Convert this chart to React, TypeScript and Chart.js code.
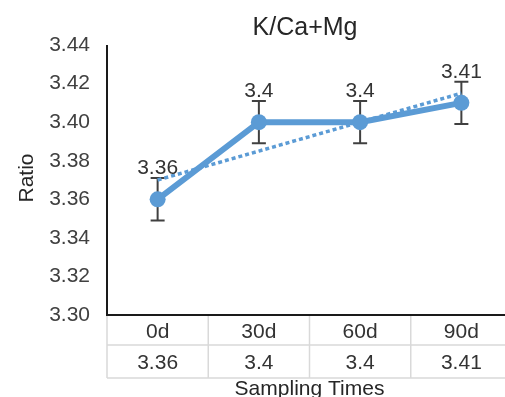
import React, { useEffect, useRef } from "react";
import { Chart, registerables } from "chart.js";

Chart.register(...registerables);

const categories = ["0d", "30d", "60d", "90d"];
const ratioValues = [3.36, 3.4, 3.4, 3.41];
const errorValues = [0.011, 0.011, 0.011, 0.011];
const tableValues = ["3.36", "3.4", "3.4", "3.41"];
const yMin = 3.3;
const yMax = 3.44;
const yStep = 0.02;
const chartTitle = "K/Ca+Mg";
const yTitle = "Ratio";
const xTitle = "Sampling Times";

const FONT = "'Liberation Sans', Arial, sans-serif";
const BLUE = "#5B9BD5";

function linearTrend(values: number[]): number[] {
  const n = values.length;
  const xs = values.map((_, i) => i + 1);
  const mx = xs.reduce((a, b) => a + b, 0) / n;
  const my = values.reduce((a, b) => a + b, 0) / n;
  let num = 0;
  let den = 0;
  for (let i = 0; i < n; i++) {
    num += (xs[i] - mx) * (values[i] - my);
    den += (xs[i] - mx) * (xs[i] - mx);
  }
  const slope = num / den;
  return xs.map((x) => my + slope * (x - mx));
}

const decorPlugin = {
  id: "decor",
  beforeDatasetsDraw(chart: any) {
    const ctx = chart.ctx;
    const xs = chart.scales.x;
    const ys = chart.scales.y;
    ctx.save();
    ctx.strokeStyle = "#404040";
    ctx.lineWidth = 2;
    ratioValues.forEach((v, i) => {
      const x = xs.getPixelForValue(i);
      const yTop = ys.getPixelForValue(v + errorValues[i]);
      const yBot = ys.getPixelForValue(v - errorValues[i]);
      ctx.beginPath();
      ctx.moveTo(x, yTop);
      ctx.lineTo(x, yBot);
      ctx.moveTo(x - 7, yTop);
      ctx.lineTo(x + 7, yTop);
      ctx.moveTo(x - 7, yBot);
      ctx.lineTo(x + 7, yBot);
      ctx.stroke();
    });
    ctx.restore();
  },
  afterDatasetsDraw(chart: any) {
    const ctx = chart.ctx;
    const xs = chart.scales.x;
    const ys = chart.scales.y;
    ctx.save();
    ctx.font = `21px ${FONT}`;
    ctx.fillStyle = "#333333";
    ctx.textAlign = "center";
    ctx.textBaseline = "alphabetic";
    ratioValues.forEach((v, i) => {
      const x = xs.getPixelForValue(i);
      const y = ys.getPixelForValue(v);
      ctx.fillText(tableValues[i], x, y - 25);
    });
    ctx.restore();
  },
  afterDraw(chart: any) {
    const ctx = chart.ctx;
    const area = chart.chartArea;
    const xs = chart.scales.x;
    const n = categories.length;
    const colW = (area.right - area.left) / n;
    const row1 = area.bottom + 30;
    const row2 = area.bottom + 63;
    ctx.save();
    // table grid
    ctx.strokeStyle = "#d9d9d9";
    ctx.lineWidth = 1.5;
    ctx.beginPath();
    ctx.moveTo(area.left, row1);
    ctx.lineTo(area.right, row1);
    ctx.moveTo(area.left, row2);
    ctx.lineTo(area.right, row2);
    for (let i = 0; i <= n; i++) {
      const x = area.left + i * colW;
      ctx.moveTo(x, area.bottom);
      ctx.lineTo(x, row2);
    }
    ctx.stroke();
    // axis lines
    ctx.strokeStyle = "#1a1a1a";
    ctx.lineWidth = 2;
    ctx.beginPath();
    ctx.moveTo(area.left, area.top);
    ctx.lineTo(area.left, area.bottom);
    ctx.lineTo(area.right, area.bottom);
    ctx.stroke();
    // table text
    ctx.font = `21px ${FONT}`;
    ctx.fillStyle = "#333333";
    ctx.textAlign = "center";
    ctx.textBaseline = "alphabetic";
    categories.forEach((c, i) => {
      const x = xs.getPixelForValue(i);
      ctx.fillText(c, x, area.bottom + 23);
      ctx.fillText(tableValues[i], x, area.bottom + 54);
    });
    // axis titles
    ctx.fillStyle = "#262626";
    ctx.font = `21px ${FONT}`;
    ctx.fillText(xTitle, (area.left + area.right) / 2, 395);
    ctx.save();
    ctx.translate(33, 178);
    ctx.rotate(-Math.PI / 2);
    ctx.fillText(yTitle, 0, 0);
    ctx.restore();
    // chart title
    ctx.font = `25px ${FONT}`;
    ctx.fillStyle = "#262626";
    ctx.fillText(chartTitle, 305, 35);
    ctx.restore();
  },
};

export default function App() {
  const canvasRef = useRef<HTMLCanvasElement | null>(null);

  useEffect(() => {
    const canvas = canvasRef.current;
    if (!canvas) return;
    const trend = linearTrend(ratioValues);
    const chart = new Chart(canvas, {
      type: "line",
      data: {
        labels: categories,
        datasets: [
          {
            label: "K/Ca+Mg",
            data: ratioValues,
            borderColor: BLUE,
            backgroundColor: BLUE,
            borderWidth: 6,
            pointRadius: 8,
            pointBackgroundColor: BLUE,
            pointBorderColor: BLUE,
            pointBorderWidth: 0,
            tension: 0,
          },
          {
            label: "Trend",
            data: trend,
            borderColor: BLUE,
            borderWidth: 3.5,
            borderDash: [4, 3],
            pointRadius: 0,
            tension: 0,
          },
        ],
      },
      options: {
        responsive: false,
        animation: false,
        devicePixelRatio: 1,
        layout: { padding: { left: 0, right: 1, top: 45, bottom: 82 } },
        plugins: {
          legend: { display: false },
          title: { display: false },
          tooltip: { enabled: false },
        },
        scales: {
          x: {
            type: "category",
            display: false,
            offset: true,
          },
          y: {
            min: yMin,
            max: yMax,
            afterFit: (scale: any) => {
              scale.width = 107;
            },
            grid: { display: false, drawTicks: false },
            border: { display: false },
            ticks: {
              stepSize: yStep,
              padding: 17,
              color: "#404040",
              font: { family: FONT, size: 21 },
              callback: (v: any) => Number(v).toFixed(2),
            },
          },
        },
      },
      plugins: [decorPlugin],
    });
    return () => chart.destroy();
  }, []);

  return (
    <div
      style={{
        position: "fixed",
        left: 0,
        top: 0,
        width: 505,
        height: 397,
        overflow: "hidden",
        background: "#fff",
      }}
    >
      <canvas ref={canvasRef} width={520} height={397} style={{ display: "block", width: 520, height: 397 }} />
    </div>
  );
}
